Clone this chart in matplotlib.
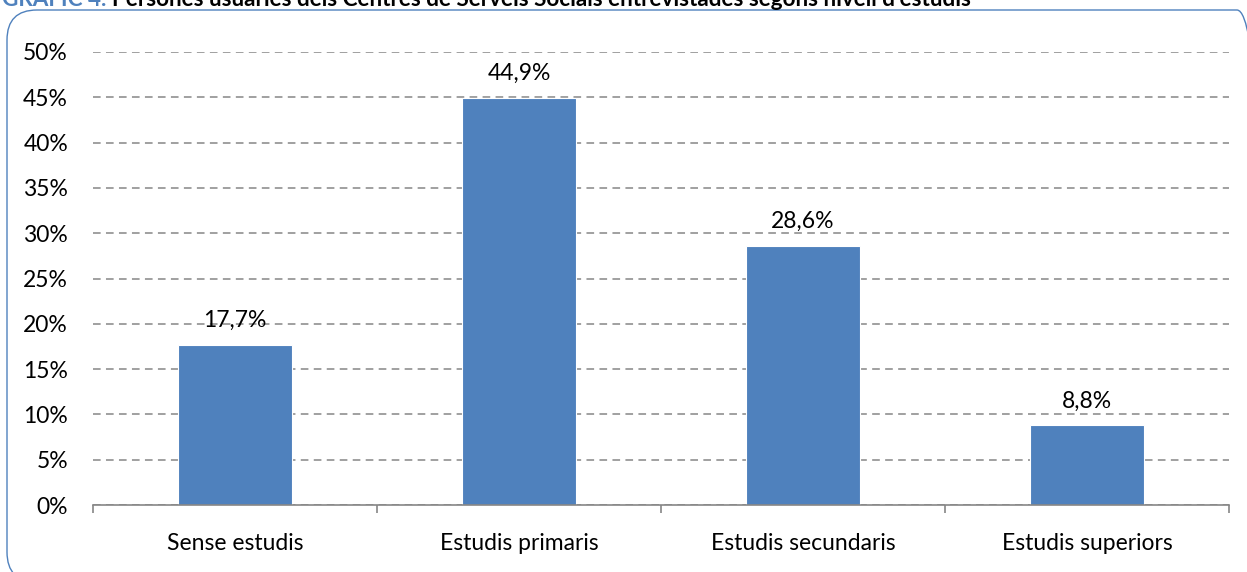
import matplotlib.pyplot as plt
from matplotlib.patches import FancyBboxPatch
from matplotlib.ticker import FixedLocator, NullFormatter

categories = ['Sense estudis', 'Estudis primaris', 'Estudis secundaris', 'Estudis superiors']
values = [17.7, 44.9, 28.6, 8.8]
yticks = [0, 5, 10, 15, 20, 25, 30, 35, 40, 45, 50]

plt.rcParams['font.family'] = ['Lato', 'DejaVu Sans']

fig = plt.figure(figsize=(12.47, 5.72), dpi=100)
W, H = 1247, 572
# axes in pixel terms: x 93..1229, y 52..505 (from top)
ax = fig.add_axes([93 / W, 1 - 505 / H, (1229 - 93) / W, (505 - 52) / H])

# rounded frame around the chart
frame = FancyBboxPatch((0.07, -0.1), 12.6, 5.72,
                       boxstyle='round,pad=0,rounding_size=0.3',
                       transform=fig.dpi_scale_trans, fill=False,
                       edgecolor='#4F81BD', linewidth=1.0, zorder=0)
fig.patches.append(frame)

x = list(range(len(categories)))
bars = ax.bar(x, values, width=0.4, color='#4F81BD', edgecolor='white',
              linewidth=0.8, zorder=3)
for rect, v in zip(bars, values):
    ax.annotate(('%.1f' % v).replace('.', ',') + '%',
                xy=(rect.get_x() + rect.get_width() / 2, v),
                xytext=(0, 10), textcoords='offset points',
                ha='center', va='bottom', fontsize=16.5, zorder=4)

ax.set_xlim(-0.5, len(categories) - 0.5)
ax.set_ylim(0, 50)
ax.set_yticks(yticks)
ax.set_yticklabels(['%d%%' % t for t in yticks], fontsize=16.5)
ax.tick_params(axis='y', length=0, pad=18)
ax.set_xticks(x)
ax.set_xticklabels(categories, fontsize=16.5)
ax.tick_params(axis='x', which='major', length=0, pad=20)
ax.xaxis.set_minor_locator(FixedLocator([i - 0.5 for i in range(len(categories) + 1)]))
ax.xaxis.set_minor_formatter(NullFormatter())
ax.tick_params(axis='x', which='minor', length=6, width=1.2, color='#868686')

ax.yaxis.grid(True, color='#868686', linestyle=(0, (5, 3.5)), linewidth=1.1, zorder=0)
ax.set_axisbelow(True)
for s in ['left', 'right', 'top']:
    ax.spines[s].set_visible(False)
ax.spines['bottom'].set_color('#868686')
ax.spines['bottom'].set_linewidth(1.2)
ax.spines['bottom'].set_zorder(5)

# title, partly cut off at the top of the image as in the source
fig.text(2 / W, 1 - 6 / H, 'GRÀFIC 4.', color='#4F81BD', fontsize=16.2,
         fontweight='bold', ha='left', va='baseline')
fig.text(112 / W, 1 - 6 / H,
         "Persones usuàries dels Centres de Serveis Socials entrevistades segons nivell d'estudis",
         color='black', fontsize=16.2, fontweight='bold', ha='left', va='baseline')

fig.savefig('out.png', dpi=100)
